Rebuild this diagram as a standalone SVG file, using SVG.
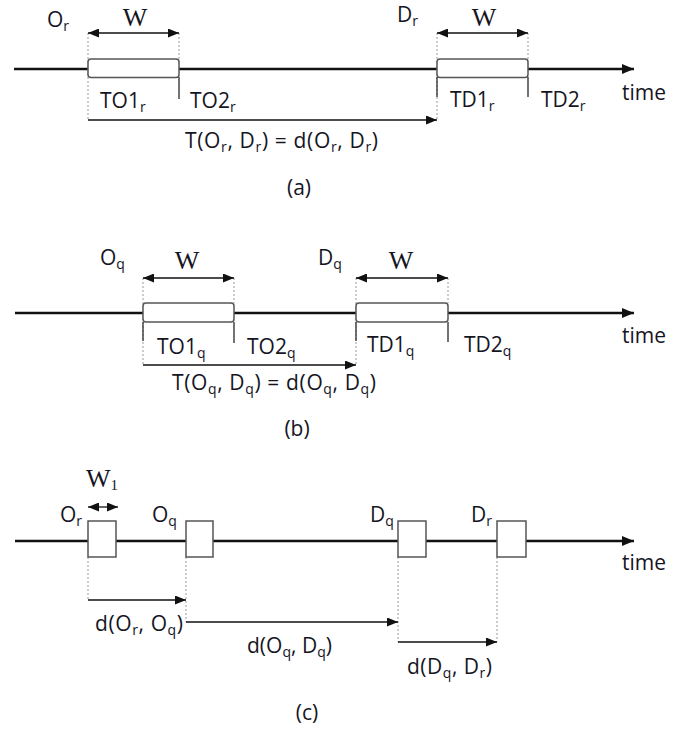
<svg xmlns="http://www.w3.org/2000/svg" width="688" height="731" viewBox="0 0 688 731">
<style>
.t{font-family:"Open Sans","Noto Sans","Liberation Sans",sans-serif;font-size:21px;fill:#15151f}
.s{font-size:14px}
.w{font-family:"Liberation Serif","DejaVu Serif",serif;font-size:26px;fill:#15151f}
.tl{stroke:#111;stroke-width:2.6;fill:none}
.box{fill:#fff;stroke:#555;stroke-width:1.5}
.sq{fill:#fff;stroke:#555;stroke-width:1.5}
.ar{stroke:#111;stroke-width:1.3;fill:none}
.dot{stroke:#999;stroke-width:1;stroke-dasharray:2 2;fill:none}
.tick{stroke:#444;stroke-width:1.5;fill:none}
</style>
<defs>
<marker id="ah" viewBox="0 0 11 9" refX="11" refY="4.5" markerWidth="11" markerHeight="9" markerUnits="userSpaceOnUse" orient="auto"><path d="M0,0L11,4.5L0,9z" fill="#111"/></marker>
<marker id="as" viewBox="0 0 11 9" refX="0" refY="4.5" markerWidth="11" markerHeight="9" markerUnits="userSpaceOnUse" orient="auto"><path d="M11,0L0,4.5L11,9z" fill="#111"/></marker>
<marker id="at" viewBox="0 0 12 10" refX="12" refY="5" markerWidth="12" markerHeight="10" markerUnits="userSpaceOnUse" orient="auto"><path d="M0,0L12,5L0,10z" fill="#111"/></marker>
</defs>

<!-- panel a -->
<g id="connectors-a">
<line class="tl" x1="14" y1="69" x2="634" y2="69" marker-end="url(#at)"/>
<line class="dot" x1="88" y1="33" x2="88" y2="120"/>
<line class="dot" x1="179" y1="33" x2="179" y2="59"/>
<line class="tick" x1="179" y1="77" x2="179" y2="99"/>
<line class="dot" x1="437" y1="33" x2="437" y2="120"/>
<line class="tick" x1="437" y1="77" x2="437" y2="97"/>
<line class="dot" x1="528" y1="33" x2="528" y2="59"/>
<line class="tick" x1="528" y1="77" x2="528" y2="97"/>
<line class="ar" x1="88" y1="33" x2="179" y2="33" marker-start="url(#as)" marker-end="url(#ah)"/>
<line class="ar" x1="437" y1="33" x2="528" y2="33" marker-start="url(#as)" marker-end="url(#ah)"/>
<line class="ar" x1="88" y1="120" x2="437" y2="120" marker-end="url(#ah)"/>
</g>
<g id="node-a-origin">
<rect class="box" x="88" y="59" width="91" height="18.5" rx="3"/>
<text class="t" x="47" y="27">O<tspan class="s" dy="4">r</tspan></text>
<text class="w" x="135" y="26" text-anchor="middle">W</text>
<text class="t" x="100" y="108">TO1<tspan class="s" dy="4">r</tspan></text>
<text class="t" x="190" y="108">TO2<tspan class="s" dy="4">r</tspan></text>
</g>
<g id="node-a-dest">
<rect class="box" x="437" y="59" width="91" height="18.5" rx="3"/>
<text class="t" x="397" y="22">D<tspan class="s" dy="4">r</tspan></text>
<text class="w" x="484" y="26" text-anchor="middle">W</text>
<text class="t" x="450" y="107">TD1<tspan class="s" dy="4">r</tspan></text>
<text class="t" x="541" y="107">TD2<tspan class="s" dy="4">r</tspan></text>
</g>
<g id="labels-a">
<text class="t" x="622" y="100">time</text>
<text class="t" x="185" y="148" textLength="193" lengthAdjust="spacing">T(O<tspan class="s" dy="4">r</tspan><tspan dy="-4">, D</tspan><tspan class="s" dy="4">r</tspan><tspan dy="-4">) = d(O</tspan><tspan class="s" dy="4">r</tspan><tspan dy="-4">, D</tspan><tspan class="s" dy="4">r</tspan><tspan dy="-4">)</tspan></text>
<text class="t" x="299" y="195" text-anchor="middle">(a)</text>
</g>

<!-- panel b -->
<g id="connectors-b">
<line class="tl" x1="15" y1="313" x2="634" y2="313" marker-end="url(#at)"/>
<line class="dot" x1="143" y1="278" x2="143" y2="365"/>
<line class="tick" x1="143" y1="322" x2="143" y2="341"/>
<line class="dot" x1="234" y1="278" x2="234" y2="303"/>
<line class="tick" x1="234" y1="322" x2="234" y2="343"/>
<line class="dot" x1="356" y1="278" x2="356" y2="365"/>
<line class="tick" x1="356" y1="322" x2="356" y2="341"/>
<line class="dot" x1="448" y1="278" x2="448" y2="303"/>
<line class="tick" x1="448" y1="322" x2="448" y2="342"/>
<line class="ar" x1="143" y1="278" x2="234" y2="278" marker-start="url(#as)" marker-end="url(#ah)"/>
<line class="ar" x1="356" y1="278" x2="448" y2="278" marker-start="url(#as)" marker-end="url(#ah)"/>
<line class="ar" x1="143" y1="365" x2="356" y2="365" marker-end="url(#ah)"/>
</g>
<g id="node-b-origin">
<rect class="box" x="143" y="303" width="91" height="19" rx="3"/>
<text class="t" x="100" y="265">O<tspan class="s" dy="4">q</tspan></text>
<text class="w" x="187" y="269" text-anchor="middle">W</text>
<text class="t" x="157" y="354">TO1<tspan class="s" dy="4">q</tspan></text>
<text class="t" x="247" y="354">TO2<tspan class="s" dy="4">q</tspan></text>
</g>
<g id="node-b-dest">
<rect class="box" x="356" y="303" width="92" height="19" rx="3"/>
<text class="t" x="318" y="265">D<tspan class="s" dy="4">q</tspan></text>
<text class="w" x="401" y="269" text-anchor="middle">W</text>
<text class="t" x="367" y="352">TD1<tspan class="s" dy="4">q</tspan></text>
<text class="t" x="464" y="352">TD2<tspan class="s" dy="4">q</tspan></text>
</g>
<g id="labels-b">
<text class="t" x="622" y="343">time</text>
<text class="t" x="172" y="390" textLength="204" lengthAdjust="spacing">T(O<tspan class="s" dy="4">q</tspan><tspan dy="-4">, D</tspan><tspan class="s" dy="4">q</tspan><tspan dy="-4">) = d(O</tspan><tspan class="s" dy="4">q</tspan><tspan dy="-4">, D</tspan><tspan class="s" dy="4">q</tspan><tspan dy="-4">)</tspan></text>
<text class="t" x="297" y="436" text-anchor="middle">(b)</text>
</g>

<!-- panel c -->
<g id="connectors-c">
<line class="tl" x1="15" y1="541" x2="634" y2="541" marker-end="url(#at)"/>
<line class="dot" x1="88" y1="557" x2="88" y2="600"/>
<line class="dot" x1="186" y1="557" x2="186" y2="622"/>
<line class="dot" x1="398" y1="557" x2="398" y2="642"/>
<line class="dot" x1="497" y1="557" x2="497" y2="642"/>
<line class="ar" x1="88" y1="507" x2="118" y2="507" marker-start="url(#as)" marker-end="url(#ah)"/>
<line class="ar" x1="88" y1="600" x2="186" y2="600" marker-end="url(#ah)"/>
<line class="ar" x1="186" y1="622" x2="398" y2="622" marker-end="url(#ah)"/>
<line class="ar" x1="398" y1="642" x2="497" y2="642" marker-end="url(#ah)"/>
</g>
<g id="node-c-or">
<rect class="sq" x="88" y="521" width="28" height="36"/>
<text class="t" x="60" y="522">O<tspan class="s" dy="4">r</tspan></text>
<text class="w" x="86" y="487" font-size="24">W<tspan font-size="15" dy="3">1</tspan></text>
</g>
<g id="node-c-oq">
<rect class="sq" x="186" y="521" width="27" height="36"/>
<text class="t" x="152" y="522">O<tspan class="s" dy="4">q</tspan></text>
</g>
<g id="node-c-dq">
<rect class="sq" x="398" y="521" width="28" height="36"/>
<text class="t" x="370" y="522">D<tspan class="s" dy="4">q</tspan></text>
</g>
<g id="node-c-dr">
<rect class="sq" x="497" y="521" width="29" height="36"/>
<text class="t" x="471" y="522">D<tspan class="s" dy="4">r</tspan></text>
</g>
<g id="labels-c">
<text class="t" x="622" y="570">time</text>
<text class="t" x="95" y="631" textLength="88" lengthAdjust="spacing">d(O<tspan class="s" dy="4">r</tspan><tspan dy="-4">, O</tspan><tspan class="s" dy="4">q</tspan><tspan dy="-4">)</tspan></text>
<text class="t" x="247" y="653" textLength="85" lengthAdjust="spacing">d(O<tspan class="s" dy="4">q</tspan><tspan dy="-4">, D</tspan><tspan class="s" dy="4">q</tspan><tspan dy="-4">)</tspan></text>
<text class="t" x="407" y="674" textLength="85" lengthAdjust="spacing">d(D<tspan class="s" dy="4">q</tspan><tspan dy="-4">, D</tspan><tspan class="s" dy="4">r</tspan><tspan dy="-4">)</tspan></text>
<text class="t" x="307" y="720" text-anchor="middle">(c)</text>
</g>
</svg>
